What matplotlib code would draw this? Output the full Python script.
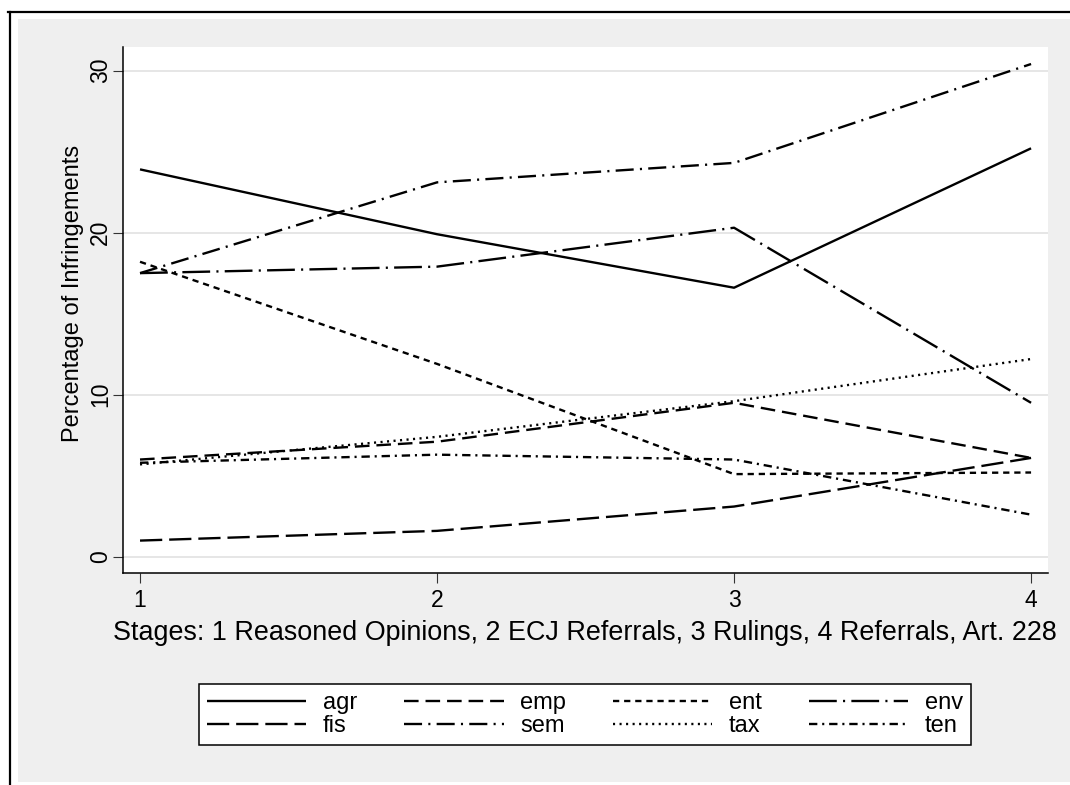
import matplotlib
matplotlib.use("Agg")
import matplotlib.pyplot as plt
from matplotlib.patches import Rectangle
from matplotlib.lines import Line2D

# infringement shares (%) by stage, per policy sector
stages = [1, 2, 3, 4]
agr = [23.9, 19.9, 16.6, 25.2]
emp = [6.0, 7.1, 9.5, 6.1]
ent = [18.2, 11.9, 5.1, 5.2]
env = [17.5, 17.9, 20.3, 9.5]
fis = [1.0, 1.6, 3.1, 6.1]
sem = [17.5, 23.1, 24.3, 30.4]
tax = [5.7, 7.4, 9.6, 12.2]
ten = [5.8, 6.3, 6.0, 2.6]

series_names = ["agr", "emp", "ent", "env", "fis", "sem", "tax", "ten"]
series_vals = [agr, emp, ent, env, fis, sem, tax, ten]
yticks = [0, 10, 20, 30]

plt.rcParams['font.family'] = ['Liberation Sans', 'DejaVu Sans']
plt.rcParams['lines.scale_dashes'] = False

# dash patterns in points (Stata-ish line patterns)
styles = {
    "agr": "-",
    "emp": (0, (10.5, 5.0)),
    "ent": (0, (4.5, 3.5)),
    "env": (0, (20.0, 4.5, 1.5, 4.5)),
    "fis": (0, (16.0, 5.0)),
    "sem": (0, (13.0, 4.5, 1.5, 4.5)),
    "tax": (0, (1.5, 3.2)),
    "ten": (0, (6.0, 3.5, 1.5, 3.5)),
}

W, H = 1070, 785
fig = plt.figure(figsize=(W / 100, H / 100), dpi=100)
fig.patch.set_facecolor("white")

# outer gray region + partial black frame
fig.patches.append(Rectangle((18 / W, 1 - 782 / H), 1 - 18 / W, (782 - 19) / H,
                             transform=fig.transFigure, facecolor="#efefef",
                             edgecolor="none", zorder=-5))
fig.lines.append(Line2D([8 / W, 1], [1 - 12 / H, 1 - 12 / H], transform=fig.transFigure,
                        color="black", lw=1.6, zorder=-4))
fig.lines.append(Line2D([9.5 / W, 9.5 / W], [0, 1 - 12 / H], transform=fig.transFigure,
                        color="black", lw=1.6, zorder=-4))

ax = fig.add_axes([122.5 / W, 1 - 573 / H, (1048 - 122.5) / W, (573 - 47) / H])
ax.set_facecolor("white")

handles = {}
for name, vals in zip(series_names, series_vals):
    ln, = ax.plot(stages, vals, color="black", lw=1.7, linestyle=styles[name],
                  label=name, solid_capstyle="butt", dash_capstyle="butt")
    handles[name] = ln

ax.set_xlim(0.941, 4.057)
ax.set_ylim(-1.0, 31.45)
ax.set_xticks(stages)
ax.set_yticks(yticks)
ax.grid(axis="y", color="#e6e6e6", lw=1.4)
ax.grid(axis="x", visible=False)
ax.set_axisbelow(True)

for s in ["top", "right"]:
    ax.spines[s].set_visible(False)
for s in ["left", "bottom"]:
    ax.spines[s].set_color("black")
    ax.spines[s].set_linewidth(1.1)

ax.tick_params(axis="both", direction="out", length=7.5, width=0.8, color="#333333",
               labelsize=16.5, labelcolor="black")
ax.tick_params(axis="x", pad=4)
ax.tick_params(axis="y", pad=0, labelrotation=90)
for lab in ax.get_yticklabels():
    lab.set_verticalalignment("center")

fig.text(585 / W, 1 - 633 / H,
         "Stages: 1 Reasoned Opinions, 2 ECJ Referrals, 3 Rulings, 4 Referrals, Art. 228",
         ha="center", va="center", fontsize=19.4)
fig.text(73 / W, 1 - 293 / H, "Percentage of Infringements", rotation=90,
         ha="center", va="center", fontsize=17)

# legend filled column-wise, so order the handles to read row-wise
leg_order = ["agr", "fis", "emp", "sem", "ent", "tax", "env", "ten"]
leg = fig.legend([handles[n] for n in leg_order], leg_order, loc="center",
                 bbox_to_anchor=(585 / W, 1 - 714.5 / H), ncol=4,
                 fontsize=17, frameon=True, fancybox=False, framealpha=1,
                 handlelength=4.2, handletextpad=0.7, columnspacing=2.0,
                 labelspacing=0.05, borderpad=0.35, borderaxespad=0)
leg.get_frame().set_edgecolor("black")
leg.get_frame().set_linewidth(1.1)
leg.get_frame().set_facecolor("white")

plt.savefig("out.png", dpi=100, facecolor=fig.get_facecolor())
